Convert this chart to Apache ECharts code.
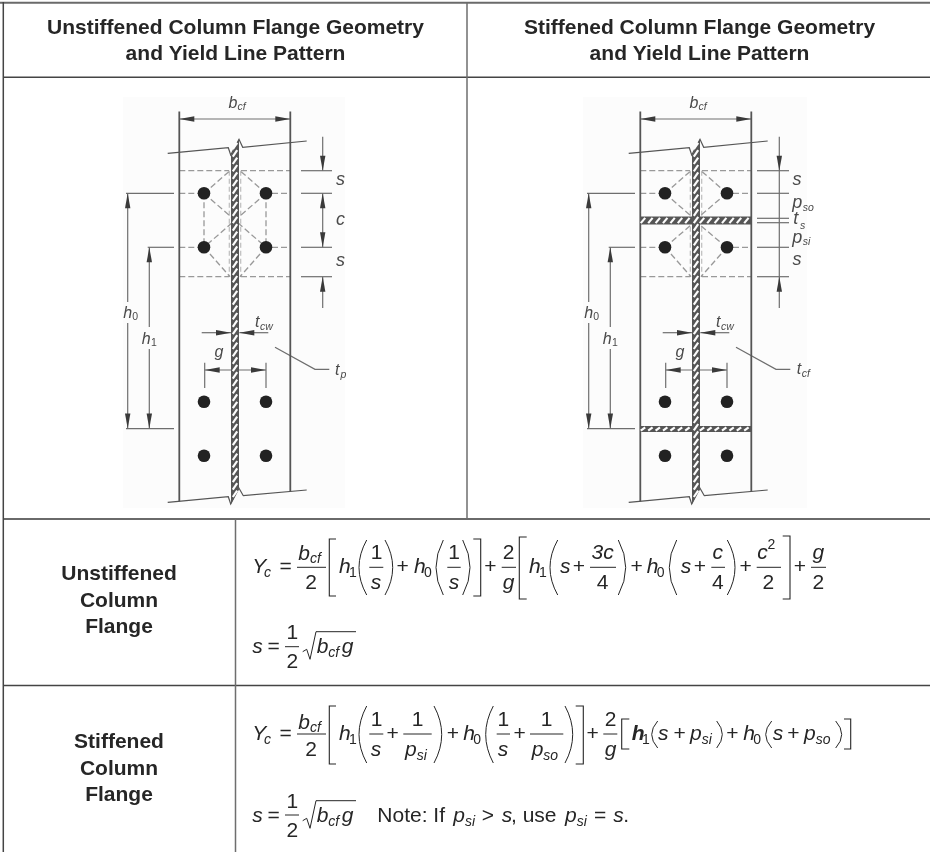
<!DOCTYPE html>
<html><head><meta charset="utf-8">
<style>html,body{margin:0;padding:0;background:#fff}#c{width:930px;height:852px}</style>
<script src="https://cdn.jsdelivr.net/npm/echarts@6/dist/echarts.min.js"></script>
</head><body><div id="c"></div>
<script>
// ---- Values (x, y in the page-sized axes below) ----
const panelShifts = [0, 461];              // the stiffened panel repeats the geometry 461 units right
const tableHeavy = [[0,2.7,930,2.7],[3,519,930,519]];
const tableDark  = [[3.3,2,3.3,852],[3,77.3,930,77.3],[3,685.5,930,685.5]];
const tableMid   = [[467,3,467,519],[235.5,519,235.5,852]];
const paperPatches = [[123,97,345,508],[583,97,807,508]];

const flangeEdges = [[[179.3,111.5],[179.3,501.5]],[[290.3,111.5],[290.3,491.5]]];
const breakLines = [
  [[167.7,153.3],[228.3,147.7],[230.7,155],[239,139.3],[242.7,147.3],[306.7,141]],
  [[167.7,502.3],[228.3,496.7],[230.7,504],[239,488.3],[243.3,495.7],[306.7,490]]
];
const webOutline = [[231,155],[239,139],[239,488],[231,504]];
const bolts = [[204,193.3],[266,193.3],[204,247.3],[266,247.3],[204,401.7],[266,401.7],[204,455.7],[266,455.7]];
const commonDims = [
  [[179.3,119],[290.3,119]],
  [[127.7,193.3],[127.7,302]],[[127.7,323],[127.7,428.5]],
  [[149.3,247.3],[149.3,327]],[[149.3,349],[149.3,428.5]],
  [[126,193.3],[174,193.3]],[[147.7,247.3],[174,247.3]],[[126,428.7],[174,428.7]],
  [[201.7,332.7],[231,332.7]],[[239.3,332.7],[268.3,332.7]],
  [[204.7,370],[266,370]],[[204.7,362.7],[204.7,388]],[[266,362.7],[266,388]],
  [[275,347.3],[315,369.3],[329.3,369.3]]
];
const commonArrows = [ // tip x, tip y, direction
  [179.3,119,'L'],[290.3,119,'R'],[127.7,193.3,'U'],[127.7,428.5,'D'],[149.3,247.3,'U'],[149.3,428.5,'D'],
  [231,332.7,'R'],[239.3,332.7,'L'],[204.7,370,'L'],[266,370,'R']
];
const commonYield = [
  [[179.3,170.7],[229,170.7]],[[241,170.7],[290.3,170.7]],
  [[179.3,276.7],[229,276.7]],[[241,276.7],[290.3,276.7]],
  [[179.3,193.3],[198,193.3]],[[272,193.3],[290.3,193.3]],
  [[179.3,247.3],[198,247.3]],[[272,247.3],[290.3,247.3]],
  [[204,193.3],[230,170.7]],[[266,193.3],[240,170.7]],
  [[204,247.3],[230,276.7]],[[266,247.3],[240,276.7]]
];
const filletLines = [[[229.3,170.7],[229.3,276.7]],[[240.7,170.7],[240.7,276.7]]];
const unstiffYield = [
  [[204,193.3],[204,247.3]],[[266,193.3],[266,247.3]],
  [[204,193.3],[266,247.3]],[[266,193.3],[204,247.3]]
];
const stiffYield = [
  [[665,193.3],[691,216]],[[726.5,193.3],[700,216]],
  [[665,247.3],[691,225]],[[726.5,247.3],[700,225]]
];
const unstiffDims = [
  [[322.7,136.7],[322.7,170.7]],[[322.7,193.3],[322.7,247.3]],[[322.7,276.7],[322.7,308]],
  [[301,170.7],[332,170.7]],[[301,193.3],[332,193.3]],[[301,247.3],[332,247.3]],[[301,276.7],[332,276.7]]
];
const unstiffArrows = [[322.7,170.7,'D'],[322.7,193.3,'U'],[322.7,247.3,'D'],[322.7,276.7,'U']];
const stiffDims = [
  [[779.3,136.7],[779.3,308]],
  [[757,170.7],[789,170.7]],[[757,193.3],[789,193.3]],[[757,218.3],[789,218.3]],[[757,222.7],[789,222.7]],
  [[757,247.3],[789,247.3]],[[757,276.7],[789,276.7]]
];
const stiffArrows = [[779.3,170.7,'D'],[779.3,276.7,'U']];
const stiffeners = [[640,216.5,692,224.5],[699,216.5,751.7,224.5],[640,426,692,432],[699,426,751.7,432]];

// text tokens: string, x, baseline, kind
const headingTokens = [
  ['Unstiffened Column Flange Geometry',235.5,35,'head'],['and Yield Line Pattern',235.5,61,'head'],
  ['Stiffened Column Flange Geometry',699.5,35,'head'],['and Yield Line Pattern',699.5,61,'head'],
  ['Unstiffened',119,581,'head'],['Column',119,608,'head'],['Flange',119,634,'head'],
  ['Stiffened',119,749,'head'],['Column',119,776,'head'],['Flange',119,802,'head']
];
const diagramTokens = [
  ['b',228.5,109.3,'dim'],['cf',237.5,111,'dimSub'],
  ['s',336,186,'dimBig'],['c',336,226,'dimBig'],['s',336,267,'dimBig'],
  ['h',123.3,319.3,'dim'],['0',132.3,321,'dimSubR'],['h',141.7,345,'dim'],['1',151,347,'dimSubR'],
  ['t',255,328,'dim'],['cw',260,331,'dimSub'],['g',214.5,358,'dim'],
  ['t',335,376,'dim'],['p',340.5,379,'dimSub'],
  ['b',689.5,109.3,'dim'],['cf',698.5,111,'dimSub'],
  ['s',792.5,186.7,'dimBig'],['p',792.3,209,'dimBig'],['so',802.7,212,'dimSub'],
  ['t',793.3,225,'dimBig'],['s',800,230,'dimSub'],['p',792.3,244,'dimBig'],['si',802.7,246,'dimSub'],
  ['s',792.5,266.7,'dimBig'],
  ['h',584.3,319.3,'dim'],['0',593.3,321,'dimSubR'],['h',602.7,345,'dim'],['1',612,347,'dimSubR'],
  ['t',716,328,'dim'],['cw',721,331,'dimSub'],['g',675.5,358,'dim'],
  ['t',796.7,375,'dim'],['cf',801.7,378,'dimSub']
];
const formulaOneTokens = [
  ['Y',252.3,574,'mi'],['c',264,578,'si'],['=',285.7,574,'mc'],
  ['b',298.3,561,'mi'],['cf',310,563.5,'si'],['2',311,590,'mc'],
  ['h',339,574,'mi'],['1',349,578,'sr'],['1',376.7,560,'mc'],['s',376,590,'mci'],
  ['+',402.7,574,'mc'],['h',414,574,'mi'],['0',424,578,'sr'],['1',454,560,'mc'],['s',454,590,'mci'],
  ['+',490.3,574,'mc'],['2',508.7,560,'mc'],['g',508.7,590,'mci'],
  ['h',529,574,'mi'],['1',539,578,'sr'],['s',560,574,'mi'],['+',579,574,'mc'],
  ['3c',602.7,560,'mci'],['4',602.7,590,'mc'],['+',636.7,574,'mc'],
  ['h',646.7,574,'mi'],['0',656.7,578,'sr'],['s',680.7,574,'mi'],['+',700,574,'mc'],
  ['c',717.8,560,'mci'],['4',717.8,590,'mc'],['+',745.7,574,'mc'],
  ['c',757.3,560,'mi'],['2',767.5,550,'sr'],['2',768.3,590,'mc'],
  ['+',800,574,'mc'],['g',818.3,560,'mci'],['2',818.3,590,'mc'],
  ['s',252.3,654,'mi'],['=',273.7,654,'mc'],['1',292.3,640.7,'mc'],['2',292.3,669.3,'mc'],
  ['b',316.7,654,'mi'],['cf',328.3,657.7,'si'],['g',341.7,654,'mi']
];
const formulaTwoTokens = [
  ['Y',252.3,741,'mi'],['c',264,745,'si'],['=',285.7,741,'mc'],
  ['b',298.3,730,'mi'],['cf',310,732.5,'si'],['2',311,757.5,'mc'],
  ['h',339,741,'mi'],['1',349,745,'sr'],['1',376.7,727,'mc'],['s',376,757.5,'mci'],
  ['+',392.7,741,'mc'],['1',417.7,727,'mc'],['p',405,757.5,'mi'],['si',416.7,760.5,'si'],
  ['+',453,741,'mc'],['h',463.3,741,'mi'],['0',473.3,745,'sr'],
  ['1',503.3,727,'mc'],['s',503,757.5,'mci'],['+',519.7,741,'mc'],
  ['1',546.7,727,'mc'],['p',531.7,757.5,'mi'],['so',543.3,760.5,'si'],
  ['+',592.7,741,'mc'],['2',610.7,727,'mc'],['g',610.7,757.5,'mci'],
  ['h',631.7,741,'mb'],['1',642,745,'sr'],['s',658,741,'mi'],['+',679.7,741,'mc'],
  ['p',690,741,'mi'],['si',701.7,744.5,'si'],['+',732.3,741,'mc'],
  ['h',743.3,741,'mi'],['0',753.3,745,'sr'],['s',772.7,741,'mi'],['+',793.3,741,'mc'],
  ['p',804,741,'mi'],['so',815.7,744.5,'si'],
  ['s',252.3,823.3,'mi'],['=',273.7,823.3,'mc'],['1',292.3,809.5,'mc'],['2',292.3,838.3,'mc'],
  ['b',316.7,823.3,'mi'],['cf',328.3,827,'si'],['g',341.7,823.3,'mi'],
  ['Note: If',377.3,823.3,'ml'],['p',453.3,823.3,'mi'],['si',465,827,'si'],['>',481.7,823.3,'ml'],
  ['s',501.7,823.3,'mi'],[', use',511,823.3,'ml'],['p',565,823.3,'mi'],['si',576.7,827,'si'],
  ['=',594,823.3,'ml'],['s',613.3,823.3,'mi'],['.',623.3,823.3,'ml']
];
const fractionBars = [
  [[297,567.3],[326,567.3]],[[369.3,567.3],[383.3,567.3]],[[447.3,567.3],[460.7,567.3]],
  [[501.7,567.3],[516,567.3]],[[590,567.3],[616,567.3]],[[711.3,567.3],[725,567.3]],
  [[756.7,567.3],[781,567.3]],[[811,567.3],[826,567.3]],[[285,646.7],[299,646.7]],
  [[297,734],[326,734]],[[369.3,734],[383.3,734]],[[403.3,734],[431.7,734]],
  [[496.7,734],[510,734]],[[530,734],[563.3,734]],[[603.3,734],[617.3,734]],[[285,815],[299,815]]
];
const radicals = [
  [[302.7,651.7],[306.7,649.3],[310,659.3],[316,631.7],[356,631.7]],
  [[302.7,820.7],[306.7,818.3],[310,828.3],[316,800.7],[356,800.7]]
];
const brackets = [ // stem x, serif end x, top, bottom
  [329.3,336,539,596],[480.7,473.3,539,596],[519.3,526.7,537,599],[790,782.7,536,599],
  [329.3,336,706,764],[583.3,575.7,706,764],[621.7,629.3,719,749],[850.7,844,719,749]
];
const parens = [ // tip x, belly x, top, bottom
  [366.7,359,540,595],[385,392.7,540,595],[443.3,436,540,595],[462.7,470,540,595],
  [557.7,550,540,595],[618.3,625.7,540,595],[676.7,669.3,540,595],[727.3,735,540,595],
  [366.7,359,706,763],[434,441.7,706,763],[493.3,485.7,706,763],[565,572.7,706,763],
  [657.7,651.7,721,748],[716.7,722.3,721,748],[771.7,765.7,721,748],[835.7,841.7,721,748]
];

// ---- Styles ----
const FF = '"Liberation Sans", Arial, sans-serif';
const INK = '#262626', PAPER = '#fdfdfd';
const textKinds = {
  head:{font:'bold 21px '+FF,fs:21,align:'center',fill:INK},
  mi:{font:'italic 21px '+FF,fs:21,align:'left',fill:INK},
  mb:{font:'italic bold 21px '+FF,fs:21,align:'left',fill:INK},
  mci:{font:'italic 21px '+FF,fs:21,align:'center',fill:INK},
  mc:{font:'21px '+FF,fs:21,align:'center',fill:INK},
  ml:{font:'21px '+FF,fs:21,align:'left',fill:INK},
  si:{font:'italic 14px '+FF,fs:14,align:'left',fill:INK},
  sr:{font:'14px '+FF,fs:14,align:'left',fill:INK},
  dim:{font:'italic 16px '+FF,fs:16,align:'left',fill:'#4a4a4a'},
  dimBig:{font:'italic 18px '+FF,fs:18,align:'left',fill:'#4a4a4a'},
  dimSub:{font:'italic 10.5px '+FF,fs:10.5,align:'left',fill:'#4a4a4a'},
  dimSubR:{font:'10.5px '+FF,fs:10.5,align:'left',fill:'#4a4a4a'}
};

// ---- Series built from the arrays, always through the axes ----
function layer(name, items, z, draw){
  return {type:'custom',name,coordinateSystem:'cartesian2d',silent:true,animation:false,clip:false,z,
    data:items.map((_,i)=>[i,i]),encode:{x:0,y:1},
    renderItem:(p,api)=>draw(items[p.dataIndex],api)};
}
const withShift=(arr,dx)=>arr.map(pl=>pl.map(q=>[q[0]+dx,q[1]]));
function lineLayer(name,items,z,style){
  return layer(name,items,z,(pl,api)=>({type:'polyline',shape:{points:pl.map(q=>api.coord(q))},
    style:Object.assign({fill:null,stroke:'#666',lineWidth:1.3},style)}));
}
function textLayer(name,items,z){
  return layer(name,items,z,(t,api)=>{
    const k=textKinds[t[3]],c=api.coord([t[1],t[2]]);
    return {type:'text',style:{text:t[0],x:c[0],y:c[1]-0.3465*k.fs,font:k.font,fill:k.fill,align:k.align,verticalAlign:'middle'}};
  });
}
const arrowVec={L:[1,0],R:[-1,0],U:[0,1],D:[0,-1]}; // from tip back to the tail
function arrowLayer(name,items,z){
  return layer(name,items,z,(a,api)=>{
    const v=arrowVec[a[2]],L=15,W=2.7,tip=[a[0],a[1]];
    const back=[a[0]+v[0]*L,a[1]+v[1]*L];
    const pts=[tip,[back[0]+v[1]*W,back[1]+v[0]*W],[back[0]-v[1]*W,back[1]-v[0]*W]];
    return {type:'polygon',shape:{points:pts.map(q=>api.coord(q))},style:{fill:'#3a3a3a'}};
  });
}
function webLayer(items,z){
  return layer('web',items,z,(dx,api)=>{
    const o=webOutline.map(q=>api.coord([q[0]+dx,q[1]]));
    const kids=[{type:'polygon',shape:{points:o},style:{fill:'#555'}}];
    for(let y=146;y<=498;y+=7.4){
      const p=api.coord([232.8+dx,y+3.2]),q=api.coord([237.2+dx,y-3.2]);
      kids.push({type:'line',shape:{x1:p[0],y1:p[1],x2:q[0],y2:q[1]},style:{stroke:PAPER,lineWidth:2.2}});
    }
    return {type:'group',children:kids};
  });
}
function stiffenerLayer(items,z){
  return layer('stiffeners',items,z,(r,api)=>{
    const a=api.coord([r[0],r[1]]),b=api.coord([r[2],r[3]]);
    const kids=[{type:'rect',shape:{x:a[0],y:a[1],width:b[0]-a[0],height:b[1]-a[1]},style:{fill:'#555'}}];
    for(let x=r[0]+3;x<r[2]-1;x+=7.4){
      const p=api.coord([x-2.2,r[3]-1.4]),q=api.coord([x+2.2,r[1]+1.4]);
      kids.push({type:'line',shape:{x1:p[0],y1:p[1],x2:q[0],y2:q[1]},style:{stroke:PAPER,lineWidth:2.2}});
    }
    return {type:'group',children:kids};
  });
}
const both=a=>panelShifts.flatMap(dx=>withShift(a,dx));
const bothArrows=panelShifts.flatMap(dx=>commonArrows.map(a=>[a[0]+dx,a[1],a[2]]));
const dashStyle={stroke:'#999',lineWidth:1.3,lineDash:[6,3]};
const dimStyle={stroke:'#6e6e6e',lineWidth:1.2};
const two=l=>[[l[0],l[1]],[l[2],l[3]]];

const series=[
  layer('paper',paperPatches,1,(r,api)=>{const a=api.coord([r[0],r[1]]),b=api.coord([r[2],r[3]]);
    return {type:'rect',shape:{x:a[0],y:a[1],width:b[0]-a[0],height:b[1]-a[1]},style:{fill:'#fcfcfc'}};}),
  lineLayer('table heavy',tableHeavy.map(two),2,{stroke:'#6a6a6a',lineWidth:2}),
  lineLayer('table dark',tableDark.map(two),2,{stroke:'#444',lineWidth:1.5}),
  lineLayer('table mid',tableMid.map(two),2,{stroke:'#6e6e6e',lineWidth:1.5}),
  lineLayer('fillets',both(filletLines),3,{stroke:'#bdbdbd',lineWidth:1.2,lineDash:[5,3]}),
  lineLayer('yield common',both(commonYield),3,dashStyle),
  lineLayer('yield unstiffened',unstiffYield,3,dashStyle),
  lineLayer('yield stiffened',stiffYield,3,dashStyle),
  lineLayer('dimensions',both(commonDims),4,dimStyle),
  lineLayer('dimensions unstiffened',unstiffDims,4,dimStyle),
  lineLayer('dimensions stiffened',stiffDims,4,dimStyle),
  lineLayer('flange edges',both(flangeEdges),5,{stroke:'#555',lineWidth:1.8}),
  lineLayer('break lines',both(breakLines),6,{stroke:'#555',lineWidth:1.2}),
  webLayer(panelShifts,7),
  stiffenerLayer(stiffeners,7),
  arrowLayer('arrows',bothArrows,8),
  arrowLayer('arrows unstiffened',unstiffArrows,8),
  arrowLayer('arrows stiffened',stiffArrows,8),
  layer('bolts',panelShifts.flatMap(dx=>bolts.map(b=>[b[0]+dx,b[1]])),8,(b,api)=>{
    const c=api.coord(b);return {type:'circle',shape:{cx:c[0],cy:c[1],r:6.3},style:{fill:'#222'}};}),
  lineLayer('fraction bars',fractionBars,9,{stroke:INK,lineWidth:1}),
  lineLayer('radicals',radicals,9,{stroke:INK,lineWidth:1}),
  layer('brackets',brackets,9,(b,api)=>({type:'polyline',
    shape:{points:[[b[1],b[2]],[b[0],b[2]],[b[0],b[3]],[b[1],b[3]]].map(q=>api.coord(q))},
    style:{fill:null,stroke:INK,lineWidth:1.1}})),
  layer('parens',parens,9,(r,api)=>{
    const t=api.coord([r[0],r[2]]),u=api.coord([r[0],r[3]]),m=api.coord([2*r[1]-r[0],(r[2]+r[3])/2]);
    return {type:'bezierCurve',shape:{x1:t[0],y1:t[1],x2:u[0],y2:u[1],cpx1:m[0],cpy1:m[1]},style:{fill:null,stroke:INK,lineWidth:1}};}),
  textLayer('headings',headingTokens,10),
  textLayer('diagram labels',diagramTokens,10),
  textLayer('formula one',formulaOneTokens,10),
  textLayer('formula two',formulaTwoTokens,10)
];

const chart=echarts.init(document.getElementById('c'),null,{renderer:'canvas'});
chart.setOption({
  animation:false,backgroundColor:'#ffffff',
  grid:{left:0,top:0,right:0,bottom:0},
  xAxis:{type:'value',min:0,max:930,show:false},
  yAxis:{type:'value',min:0,max:852,inverse:true,show:false},
  series
});
</script></body></html>
